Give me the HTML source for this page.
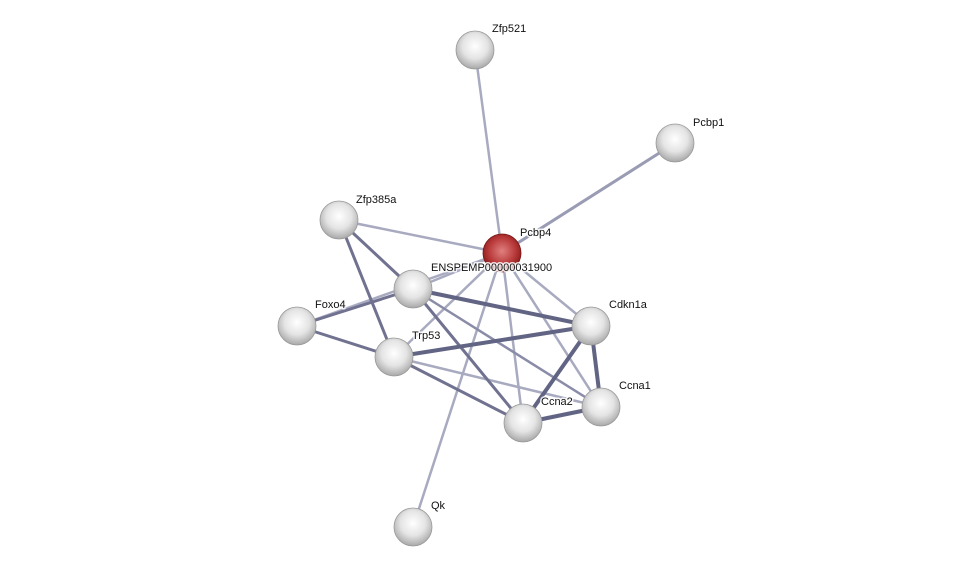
<!DOCTYPE html>
<html><head><style>html,body{margin:0;padding:0;background:#fff;}svg{display:block}</style></head>
<body>
<svg width="976" height="572" xmlns="http://www.w3.org/2000/svg" font-family="Liberation Sans, sans-serif" font-size="11">
<defs>
<radialGradient id="g" cx="50%" cy="40%" r="60%">
<stop offset="0%" stop-color="#ffffff"/><stop offset="55%" stop-color="#e4e4e4"/><stop offset="100%" stop-color="#a8a8a8"/>
</radialGradient>
<radialGradient id="r" cx="50%" cy="45%" r="60%">
<stop offset="0%" stop-color="#e08080"/><stop offset="60%" stop-color="#b83838"/><stop offset="100%" stop-color="#7a1515"/>
</radialGradient>
</defs>
<g stroke-linecap="round">
<g stroke="#a8aac0" stroke-width="2.5">
<line x1="475" y1="50" x2="502" y2="253"/>
<line x1="339" y1="220" x2="502" y2="253"/>
<line x1="297" y1="326" x2="502" y2="253"/>
<line x1="394" y1="357" x2="502" y2="253"/>
<line x1="413" y1="527" x2="502" y2="253"/>
<line x1="523" y1="423" x2="502" y2="253"/>
<line x1="591" y1="326" x2="502" y2="253"/>
<line x1="601" y1="407" x2="502" y2="253"/>
<line x1="394" y1="357" x2="601" y2="407"/>
<line x1="413" y1="289" x2="502" y2="253"/>
</g>
<line x1="675" y1="143" x2="502" y2="253" stroke="#9a9cb4" stroke-width="3"/>
<g stroke="#8a8ca8" stroke-width="2.5">
<line x1="413" y1="289" x2="601" y2="407"/>
</g>
<g stroke="#707290" stroke-width="3">
<line x1="339" y1="220" x2="413" y2="289"/>
<line x1="339" y1="220" x2="394" y2="357"/>
<line x1="297" y1="326" x2="413" y2="289"/>
<line x1="297" y1="326" x2="394" y2="357"/>
<line x1="413" y1="289" x2="523" y2="423"/>
<line x1="394" y1="357" x2="523" y2="423"/>
</g>
<g stroke="#626484" stroke-width="4">
<line x1="413" y1="289" x2="591" y2="326"/>
<line x1="394" y1="357" x2="591" y2="326"/>
<line x1="591" y1="326" x2="523" y2="423"/>
<line x1="591" y1="326" x2="601" y2="407"/>
<line x1="601" y1="407" x2="523" y2="423"/>
</g>
</g>
<g stroke="#999" stroke-width="0.8">
<circle cx="475" cy="50" r="19" fill="url(#g)"/>
<circle cx="675" cy="143" r="19" fill="url(#g)"/>
<circle cx="339" cy="220" r="19" fill="url(#g)"/>
<circle cx="413" cy="289" r="19" fill="url(#g)"/>
<circle cx="297" cy="326" r="19" fill="url(#g)"/>
<circle cx="591" cy="326" r="19" fill="url(#g)"/>
<circle cx="394" cy="357" r="19" fill="url(#g)"/>
<circle cx="601" cy="407" r="19" fill="url(#g)"/>
<circle cx="523" cy="423" r="19" fill="url(#g)"/>
<circle cx="413" cy="527" r="19" fill="url(#g)"/>
<circle cx="502" cy="253" r="19" fill="url(#r)" stroke="#7a1515"/>
</g>
<g fill="#111" stroke="#fff" stroke-width="3" stroke-opacity="0.85" paint-order="stroke" stroke-linejoin="round">
<text x="492" y="32">Zfp521</text>
<text x="693" y="126">Pcbp1</text>
<text x="356" y="203">Zfp385a</text>
<text x="520" y="236">Pcbp4</text>
<text x="431" y="271">ENSPEMP00000031900</text>
<text x="315" y="308">Foxo4</text>
<text x="609" y="308">Cdkn1a</text>
<text x="412" y="339">Trp53</text>
<text x="619" y="389">Ccna1</text>
<text x="541" y="405">Ccna2</text>
<text x="431" y="509">Qk</text>
</g>
</svg>
</body></html>
